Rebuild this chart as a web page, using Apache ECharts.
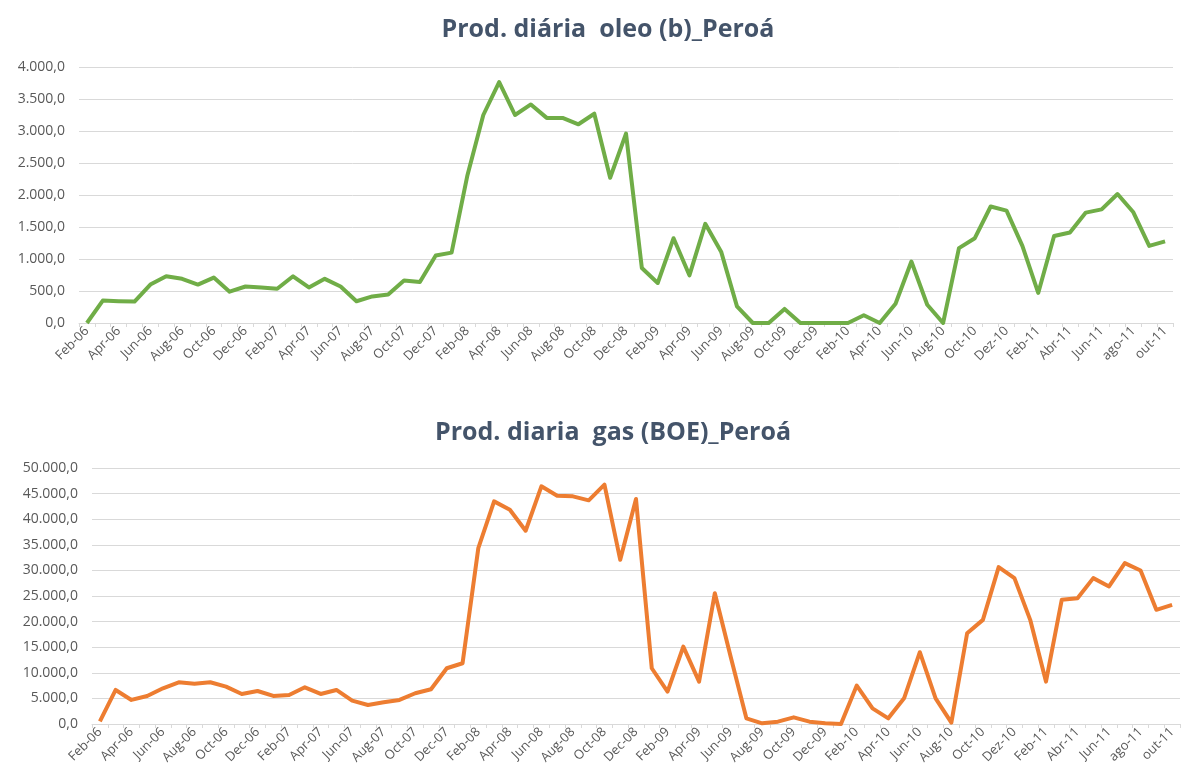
<!DOCTYPE html>
<html>
<head>
<meta charset="utf-8">
<script src="https://cdn.jsdelivr.net/npm/echarts@6/dist/echarts.min.js"></script>
<style>html,body{margin:0;padding:0;background:#fff}#c{width:1183px;height:782px}</style>
</head>
<body>
<div id="c"></div>
<script>
const months = [
 "Feb-06","Mar-06","Apr-06","May-06","Jun-06","Jul-06","Aug-06","Sep-06","Oct-06","Nov-06","Dec-06",
 "Jan-07","Feb-07","Mar-07","Apr-07","May-07","Jun-07","Jul-07","Aug-07","Sep-07","Oct-07","Nov-07","Dec-07",
 "Jan-08","Feb-08","Mar-08","Apr-08","May-08","Jun-08","Jul-08","Aug-08","Sep-08","Oct-08","Nov-08","Dec-08",
 "Jan-09","Feb-09","Mar-09","Apr-09","May-09","Jun-09","Jul-09","Aug-09","Sep-09","Oct-09","Nov-09","Dec-09",
 "Jan-10","Feb-10","Mar-10","Apr-10","May-10","Jun-10","Jul-10","Aug-10","Sep-10","Oct-10","Nov-10","Dez-10",
 "Jan-11","Feb-11","Mar-11","Abr-11","Mai-11","Jun-11","jul-11","ago-11","set-11","out-11"
];
const oil = [
 0,350,340,335,600,730,690,600,710,490,570,
 555,535,730,555,690,570,340,415,445,665,640,1055,
 1100,2310,3250,3765,3250,3415,3205,3205,3105,3270,2270,2960,
 860,625,1325,745,1550,1115,260,0,0,220,0,0,
 0,0,120,0,300,960,285,0,1170,1325,1820,1755,
 1205,470,1360,1415,1725,1775,2015,1730,1205,1275
];
const gas = [
 500,6650,4700,5480,6975,8150,7850,8150,7300,5870,6450,
 5480,5670,7170,5870,6650,4560,3720,4240,4700,6000,6780,10890,
 11860,34350,43480,41850,37750,46420,44590,44460,43680,46740,32070,43940,
 10890,6320,15120,8280,25550,13170,1110,130,450,1300,450,130,
 0,7500,3060,1110,5020,14020,5020,260,17730,20340,30640,28490,
 20340,8280,24250,24580,28490,26860,31420,29990,22300,23270
];
const oilTitle = "Prod. diária  oleo (b)_Peroá";
const gasTitle = "Prod. diaria  gas (BOE)_Peroá";

function fmt(v){
  const s = Math.round(v).toString().replace(/\B(?=(\d{3})+(?!\d))/g, ".");
  return s + ",0";
}
const labelColor = "#595959";
const gridColor = "#d9d9d9";
const font = "'Open Sans', sans-serif";

function xAxis(gi){
  return {
    type:'category', gridIndex: gi, data: months, boundaryGap: true,
    axisLine:{lineStyle:{color:gridColor, width:1}},
    axisTick:{show:true, interval:0, length:4, lineStyle:{color:gridColor}},
    axisLabel:{interval:1, rotate:45, color:labelColor, fontSize:13, fontFamily:font, margin:6}
  };
}
function yAxis(gi, max, interval){
  return {
    type:'value', gridIndex: gi, min:0, max:max, interval:interval,
    axisLine:{show:false}, axisTick:{show:false},
    splitLine:{lineStyle:{color:gridColor, width:1}},
    axisLabel:{color:labelColor, fontSize:14, fontFamily:font, formatter:fmt, margin:14}
  };
}
const chart = echarts.init(document.getElementById('c'), null, {renderer:'canvas'});
chart.setOption({
  animation:false,
  backgroundColor:'#fff',
  title:[
    {text:oilTitle, left:603, top:12, textAlign:'center',
     textStyle:{color:'#44546a', fontSize:25, fontWeight:'bold', fontFamily:font}},
    {text:gasTitle, left:608, top:415, textAlign:'center',
     textStyle:{color:'#44546a', fontSize:25, fontWeight:'bold', fontFamily:font}}
  ],
  grid:[
    {left:79, right:10, top:67, height:256},
    {left:92, right:3, top:468, height:256}
  ],
  xAxis:[xAxis(0), xAxis(1)],
  yAxis:[yAxis(0,4000,500), yAxis(1,50000,5000)],
  series:[
    {type:'line', xAxisIndex:0, yAxisIndex:0, data:oil, showSymbol:false,
     lineStyle:{color:'#70ad47', width:4, join:'round'}},
    {type:'line', xAxisIndex:1, yAxisIndex:1, data:gas, showSymbol:false,
     lineStyle:{color:'#ed7d31', width:4, join:'round'}}
  ]
});
</script>
</body>
</html>
